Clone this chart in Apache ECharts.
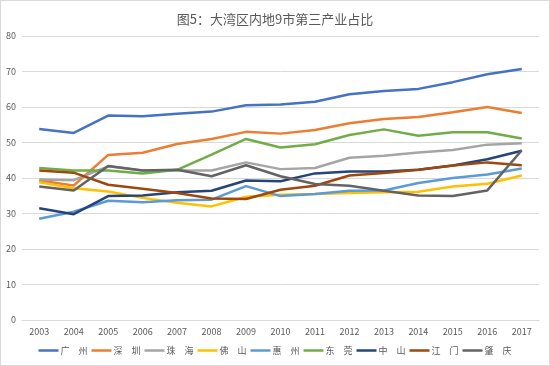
<!DOCTYPE html>
<html><head><meta charset="utf-8">
<script src="https://cdn.jsdelivr.net/npm/echarts@6/dist/echarts.min.js"></script>
<style>html,body{margin:0;padding:0;background:#fff}#c{width:550px;height:366px;box-sizing:border-box;border:1px solid #d9d9d9}</style>
</head><body><div id="c"></div>
<script>
const years = ['2003','2004','2005','2006','2007','2008','2009','2010','2011','2012','2013','2014','2015','2016','2017'];
const guangzhou = [53.8,52.7,57.6,57.4,58.1,58.7,60.5,60.7,61.5,63.6,64.5,65.1,67.0,69.2,70.7];
const shenzhen  = [39.3,37.9,46.5,47.1,49.6,51.0,53.0,52.5,53.5,55.4,56.6,57.2,58.5,60.0,58.3];
const zhuhai    = [39.6,39.4,43.3,42.1,42.1,42.1,44.4,42.5,42.8,45.7,46.3,47.2,47.9,49.4,49.8];
const foshan    = [38.8,37.1,36.2,34.4,33.0,32.0,34.7,35.3,35.5,35.8,36.0,36.1,37.6,38.4,40.7];
const huizhou   = [28.5,30.5,33.6,33.2,33.7,33.9,37.7,34.9,35.5,36.4,36.5,38.6,40.0,41.0,42.7];
const dongguan  = [42.8,42.1,42.1,41.3,42.3,46.6,51.0,48.6,49.5,52.1,53.7,51.9,52.9,52.9,51.1];
const zhongshan = [31.5,29.8,34.9,35.1,36.0,36.4,39.3,39.1,41.3,41.8,41.8,42.3,43.5,45.3,47.7];
const jiangmen  = [42.1,41.5,38.1,37.0,35.8,34.2,34.1,36.7,37.8,40.7,41.4,42.3,43.5,44.4,43.6];
const zhaoqing  = [37.6,36.5,43.4,42.1,42.3,40.5,43.6,40.5,38.3,37.8,36.4,35.1,34.9,36.5,47.8];
const names = ['广　州','深　圳','珠　海','佛　山','惠　州','东　莞','中　山','江　门','肇　庆'];
const values = [guangzhou,shenzhen,zhuhai,foshan,huizhou,dongguan,zhongshan,jiangmen,zhaoqing];
const colors = ['#4472C4','#ED7D31','#A5A5A5','#FFC000','#5B9BD5','#70AD47','#264478','#9E480E','#636363'];
const font = '"Noto Sans CJK SC", sans-serif';
const chart = echarts.init(document.getElementById('c'));
chart.setOption({
  animation:false,
  color: colors,
  title:{text:'图5：大湾区内地9市第三产业占比',left:'center',top:7,textStyle:{fontFamily:font,fontSize:13,fontWeight:'normal',color:'#595959'}},
  legend:{top:345,left:'center',icon:'rect',itemWidth:20,itemHeight:2.5,itemGap:4,padding:0,textStyle:{fontFamily:font,fontSize:9,color:'#595959',padding:[0,0,0,-3]},data:names},
  grid:{left:21,right:10,top:35,bottom:45},
  xAxis:{type:'category',data:years,boundaryGap:true,axisLine:{lineStyle:{color:'#d9d9d9'}},axisTick:{show:false},axisLabel:{fontFamily:font,fontSize:9,color:'#595959',margin:7}},
  yAxis:{type:'value',min:0,max:80,interval:10,axisLine:{show:false},axisTick:{show:false},splitLine:{lineStyle:{color:'#d9d9d9'}},axisLabel:{fontFamily:font,fontSize:9,color:'#595959',margin:6}},
  series: names.map((n,i)=>({name:n,type:'line',data:values[i],symbol:'none',lineStyle:{width:2.5,color:colors[i]}}))
});
</script></body></html>
